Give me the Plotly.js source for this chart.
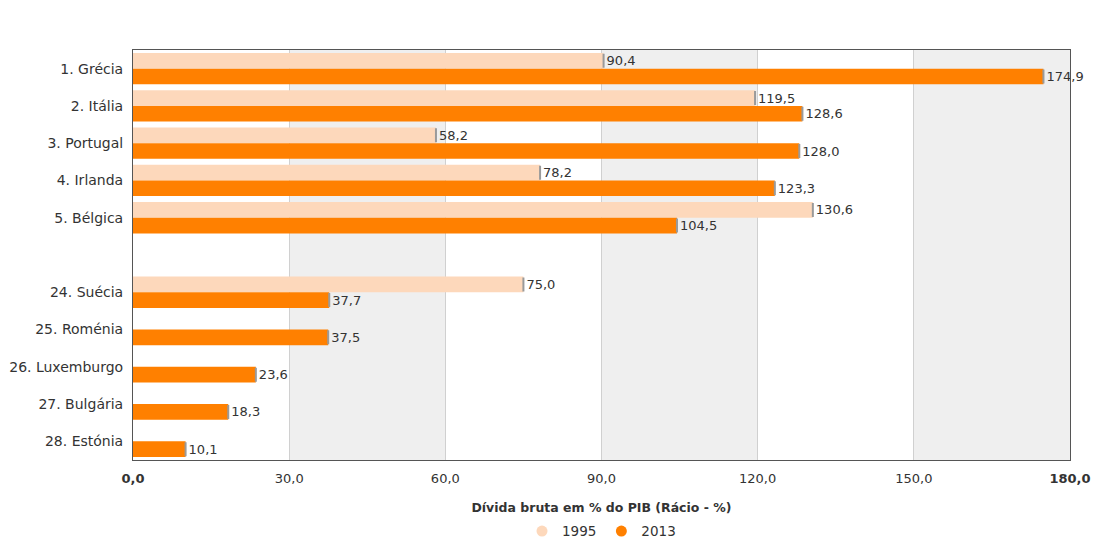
<!DOCTYPE html>
<html>
<head>
<meta charset="utf-8">
<script src="https://cdn.plot.ly/plotly-3.0.1.min.js"></script>
<style>html,body{margin:0;padding:0;background:#fff;}#chart{width:1095px;height:540px;}</style>
</head>
<body>
<div id="chart"></div>
<script>
const categories = ['1. Grécia','2. Itália','3. Portugal','4. Irlanda','5. Bélgica',' ','24. Suécia','25. Roménia','26. Luxemburgo','27. Bulgária','28. Estónia'];
const values1995 = [90.4,119.5,58.2,78.2,130.6,null,75.0,null,null,null,null];
const values2013 = [174.9,128.6,128.0,123.3,104.5,null,37.7,37.5,23.6,18.3,10.1];
const seriesNames = ['1995','2013'];
const tickValues = [0,30,60,90,120,150,180];
const tickLabels = ['<b>0,0</b>','30,0','60,0','90,0','120,0','150,0','<b>180,0</b>'];
const xTitle = 'Dívida bruta em % do PIB (Rácio - %)';

const colors = ['#fdd8bb','#ff8000'];
const font = 'Verdana, "DejaVu Sans", sans-serif';

function zeros(arr){ return arr.map(v => v === null ? null : 0); }

function barTrace(vals, name, color){
  return {
    type:'bar', orientation:'h', y:categories, x:vals, name:name,
    marker:{color:color, line:{width:0}},
    texttemplate:'%{x:.1f}', textposition:'outside', cliponaxis:false,
    textfont:{family:font, size:13, color:'#333'},
    error_x:{type:'data', array:zeros(vals), visible:true, color:'#9a9a9a', thickness:2, width:7},
    showlegend:false, hoverinfo:'x+y'
  };
}

const data = [
  barTrace(values1995, seriesNames[0], colors[0]),
  barTrace(values2013, seriesNames[1], colors[1]),
  {type:'scatter', mode:'markers', x:[null], y:[null], name:seriesNames[0], marker:{color:colors[0], size:11, symbol:'circle'}, showlegend:true},
  {type:'scatter', mode:'markers', x:[null], y:[null], name:seriesNames[1], marker:{color:colors[1], size:11, symbol:'circle'}, showlegend:true}
];

const shapes = [];
for (let i = 0; i < tickValues.length - 1; i++) {
  if (i % 2 === 1) {
    shapes.push({type:'rect', xref:'x', yref:'paper', x0:tickValues[i], x1:tickValues[i+1], y0:0, y1:1, fillcolor:'#efefef', line:{width:0}, layer:'below'});
  }
}

const layout = {
  width:1095, height:540,
  margin:{l:133, r:25, t:50, b:80, autoexpand:false},
  paper_bgcolor:'#fff', plot_bgcolor:'rgba(0,0,0,0)',
  barmode:'group', bargap:0.16, bargroupgap:0,
  separators:',.',
  font:{family:font, size:12, color:'#333'},
  shapes:shapes,
  xaxis:{
    range:[0,180], tickvals:tickValues, ticktext:tickLabels,
    showgrid:true, gridcolor:'#d0d0d0', gridwidth:1, zeroline:false,
    showline:true, linecolor:'#555', linewidth:1, mirror:true,
    ticks:'', ticklabelstandoff:6, tickfont:{family:font, size:13, color:'#333'},
    automargin:false,
    title:{text:'<b>'+xTitle+'</b>', font:{family:font, size:12.5, color:'#333'}, standoff:18},
    fixedrange:true
  },
  yaxis:{
    type:'category', categoryorder:'array', categoryarray:categories, autorange:'reversed',
    showgrid:false, zeroline:false, showline:true, linecolor:'#555', linewidth:1, mirror:true,
    automargin:false,
    ticks:'', ticklabelstandoff:6, tickfont:{family:font, size:14, color:'#333'}, fixedrange:true
  },
  legend:{orientation:'h', x:0.5, xanchor:'center', y:-0.174, yanchor:'middle', font:{family:font, size:13.5, color:'#333'}, itemwidth:30, tracegroupgap:0},
  showlegend:true
};

Plotly.newPlot('chart', data, layout, {displayModeBar:false, staticPlot:true});
</script>
</body>
</html>
